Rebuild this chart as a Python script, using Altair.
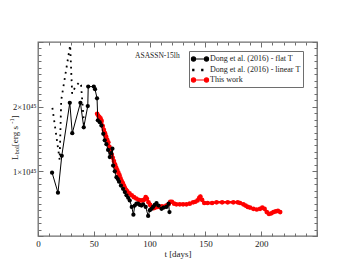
import altair as alt
import pandas as pd

# ---- data (L in units of 1e45 erg/s) ----
flat_t = [12.6, 17.9, 21.3, 28.5, 30.7, 38.0, 41.0, 44.6, 45.0, 50.0, 51.1, 52.9,
          53.6, 55.3, 56.8, 58.5, 59.8, 61.3, 62.8, 64.3, 65.5, 66.7, 67.3, 68.8,
          70.3, 71.5, 72.6, 74.3, 76.2, 77.8, 79.3, 80.8, 82.2, 84.0, 85.5, 86.7,
          88.2, 89.7, 91.2, 92.7, 94.2, 96.5, 98.7, 100.2, 101.7, 103.1, 104.6,
          106.2, 108.0, 110.7, 112.5, 115.1, 117.0, 117.8]
flat_L = [0.98, 0.67, 1.24, 2.06, 1.59, 2.06, 1.68, 2.01, 2.31, 2.31, 2.27, 2.13,
          1.79, 1.76, 1.71, 1.58, 1.48, 1.42, 1.33, 1.22, 1.28, 1.35, 1.09, 1.00,
          0.91, 0.88, 0.84, 0.78, 0.73, 0.68, 0.63, 0.59, 0.55, 0.45, 0.33, 0.47,
          0.50, 0.50, 0.48, 0.47, 0.49, 0.45, 0.31, 0.40, 0.42, 0.45, 0.48,
          0.51, 0.47, 0.42, 0.44, 0.45, 0.50, 0.37]

lin_t = [12.9, 19.4, 20.8, 28.8, 30.6, 33.5, 37.2, 38.6, 41.3]
lin_L = [1.98, 1.18, 2.10, 2.95, 2.20, 2.31, 2.38, 2.33, 1.72]

work_t = [53, 54, 55, 56, 57, 58, 59, 60, 61, 62, 63, 64, 65, 66, 67, 68, 69, 70,
          71, 72, 73, 74, 75, 76, 77, 78, 79, 80, 82, 84, 86, 88, 90, 92, 94, 95,
          96.5, 97.5, 99, 100.5, 102, 103.5, 105, 107, 109, 111, 113, 115, 117,
          118.5, 120, 122, 124, 127, 130, 133, 136, 139, 141, 143, 144.5, 145.5,
          147, 149, 152, 156, 160, 165, 170, 175, 179, 181, 184, 186, 188, 190,
          193, 196, 199, 201, 203, 205, 207, 209, 211, 213, 215, 217]
work_L = [1.89, 1.86, 1.84, 1.82, 1.78, 1.70, 1.64, 1.59, 1.54, 1.49, 1.45, 1.38,
          1.32, 1.26, 1.21, 1.16, 1.11, 1.06, 1.02, 0.98, 0.94, 0.89, 0.85, 0.82,
          0.78, 0.74, 0.71, 0.69, 0.66, 0.63, 0.60, 0.58, 0.56, 0.55, 0.55, 0.56,
          0.60, 0.58, 0.52, 0.48, 0.45, 0.43, 0.44, 0.45, 0.45, 0.46, 0.45, 0.47,
          0.49, 0.53, 0.53, 0.50, 0.49, 0.49, 0.49, 0.49, 0.50, 0.52, 0.53, 0.55,
          0.59, 0.61, 0.56, 0.51, 0.51, 0.51, 0.52, 0.52, 0.52, 0.52, 0.52, 0.51,
          0.49, 0.47, 0.45, 0.44, 0.42, 0.41, 0.42, 0.44, 0.42, 0.37, 0.34, 0.35,
          0.37, 0.38, 0.39, 0.37]

series_names = ["Dong et al. (2016) - flat T", "Dong et al. (2016) - linear T", "This work"]
series_colors = ["#000000", "#000000", "#ff0000"]

x_ticks = list(range(0, 251, 10))
y_ticks = [round(i * 0.1, 1) for i in range(31)]

object_name = ["ASASSN-15lh"]
object_t = [87]
object_L = [2.76]

W, H = 279, 194
FONT = "Liberation Serif"
GRAY = "#6e6e6e"

flat = pd.DataFrame({"t": flat_t, "L": flat_L})
lin = pd.DataFrame({"t": lin_t, "L": lin_L})
work = pd.DataFrame({"t": work_t, "L": work_L})
ann = pd.DataFrame({"t": object_t, "L": object_L, "name": object_name})
leg = pd.DataFrame({"series": series_names})

xs = alt.Scale(domain=[0, 250], nice=False, zero=False)
ys = alt.Scale(domain=[0, 3], nice=False, zero=False)

x_axis = alt.Axis(
    values=x_ticks,
    labelExpr="datum.value % 50 === 0 && datum.value < 250 ? datum.label : ''",
    grid=True, gridColor=GRAY, gridWidth=1, gridOpacity=1,
    gridDash={"condition": {"test": "datum.value % 50 === 0", "value": [5, H - 10, 5, 1000]},
              "value": [3, H - 6, 3, 1000]},
    ticks=False, tickSize=0, domain=False, labelOverlap=False, labelFlush=False,
    labelPadding=3, labelFont=FONT, labelFontSize=9, labelColor="#222",
    title="t [days]", titleFont=FONT, titleFontSize=9, titleFontWeight="normal",
    titleColor="#222", titlePadding=1,
)
y_axis = alt.Axis(
    values=y_ticks,
    labelExpr="datum.value === 1 ? '1×10⁴⁵' : (datum.value === 2 ? '2×10⁴⁵' : '')",
    grid=True, gridColor=GRAY, gridWidth=1, gridOpacity=1,
    gridDash={"condition": {"test": "datum.value % 1 === 0", "value": [5, W - 10, 5, 1000]},
              "value": [3, W - 6, 3, 1000]},
    ticks=False, tickSize=0, domain=False, labelOverlap=False, labelFlush=False,
    labelPadding=2, labelFont=FONT, labelFontSize=8.5, labelColor="#222",
    title=None,
)

X = alt.X("t:Q", scale=xs, axis=x_axis)
Y = alt.Y("L:Q", scale=ys, axis=y_axis)

red_line = alt.Chart(work).mark_line(color="#ff0000", strokeWidth=2.5).encode(x=X, y=Y)
red_pts = alt.Chart(work).mark_circle(color="#ff0000", size=22, opacity=1).encode(x=X, y=Y)
flat_line = alt.Chart(flat).mark_line(color="#000000", strokeWidth=1).encode(x=X, y=Y)
flat_pts = alt.Chart(flat).mark_circle(color="#000000", size=18, opacity=1).encode(x=X, y=Y)
lin_line = alt.Chart(lin).mark_line(color="#000000", strokeWidth=1.8, strokeDash=[1.8, 4.5],
                                    strokeCap="butt").encode(x=X, y=Y)

label = alt.Chart(ann).mark_text(font=FONT, fontSize=7.5, align="left", baseline="alphabetic",
                                 color="#222").encode(x=X, y=Y, text="name:N")

# legend (symbols are custom paths: line with end markers, dotted)
p_line = ("M-1.6,0L1.6,0"
          "M-1.72,0a0.42,0.42 0 1,0 0.84,0a0.42,0.42 0 1,0 -0.84,0"
          "M0.88,0a0.42,0.42 0 1,0 0.84,0a0.42,0.42 0 1,0 -0.84,0")
p_dots = ("M-1.46,-0.12h0.24v0.24h-0.24z"
          "M0.34,-0.12h0.24v0.24h-0.24z")
shape_range = [p_line, p_dots, p_line]

legend = alt.Legend(
    title=None, orient="none", legendX=151, legendY=9,
    strokeColor=GRAY, fillColor="white", padding=2,
    labelFont=FONT, labelFontSize=8, labelColor="#222",
    symbolSize=100, symbolStrokeWidth=1.1, rowPadding=0, labelOffset=4, symbolOffset=3,
    symbolOpacity=1,
)
leg_layer = alt.Chart(leg).transform_filter("false").mark_point(opacity=1).encode(
    fill=alt.Fill("series:N", scale=alt.Scale(domain=series_names, range=series_colors), legend=legend),
    stroke=alt.Stroke("series:N", scale=alt.Scale(domain=series_names, range=series_colors), legend=legend),
    shape=alt.Shape("series:N", scale=alt.Scale(domain=series_names, range=shape_range), legend=legend),
)

# y-axis title pieces: L_bol [erg s^-1], drawn bottom to top
yt = []
def piece(txt, size, dx, y0):
    return alt.Chart(pd.DataFrame({"a": [0]})).mark_text(
        text=txt, font=FONT, fontSize=size, angle=270, align="left", baseline="middle",
        color="#222").encode(x=alt.value(-23.5 + dx), y=alt.value(y0))

y0 = 118
pieces = [("L", 9, 0, 5.5), ("bol", 6.5, 2.2, 8.3), (" [erg s", 9, 0, 22.5),
          ("-1", 6.5, -2.8, 5.4), ("]", 9, 0, 3.0)]
for txt, size, dx, wlen in pieces:
    yt.append(piece(txt, size, dx, y0))
    y0 -= wlen

chart = alt.layer(red_line, red_pts, flat_line, flat_pts, lin_line, label, leg_layer, *yt).properties(
    width=W, height=H,
    autosize=alt.AutoSizeParams(type="none"),
    padding={"left": 30, "top": 34, "right": 20, "bottom": 34},
    background="white",
).configure_view(stroke=GRAY, strokeWidth=1.3)

chart.save("out.html", embed_options={"renderer": "svg", "actions": False})
